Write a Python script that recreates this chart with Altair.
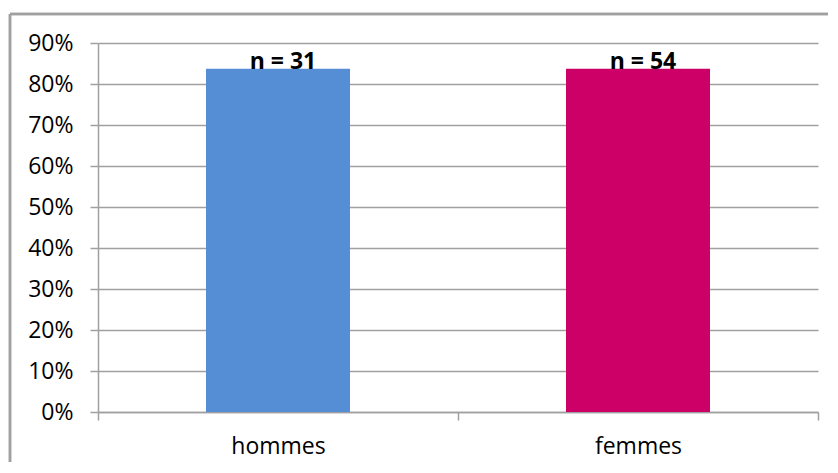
import altair as alt
import pandas as pd

categories = ["hommes", "femmes"]
values = [0.837, 0.837]
labels = ["n = 31", "n = 54"]
colors = ["#558ED5", "#CC0066"]
y_ticks = [0, 0.1, 0.2, 0.3, 0.4, 0.5, 0.6, 0.7, 0.8, 0.9]

df = pd.DataFrame({"cat": categories, "val": values, "lab": labels})

GRAY = "#A0A0A0"
FONT = "Open Sans"

x_enc = alt.X("cat:N", sort=categories,
              scale=alt.Scale(paddingInner=0, paddingOuter=0),
              axis=alt.Axis(title=None, labelAngle=0, tickBand="extent",
                            domainColor=GRAY, domainWidth=1.5,
                            tickColor=GRAY, tickWidth=1.5, tickSize=8,
                            labelFont=FONT, labelFontSize=23, labelColor="black",
                            labelPadding=15, grid=False))
y_enc = alt.Y("val:Q", scale=alt.Scale(domain=[0, 0.9], nice=False),
              axis=alt.Axis(title=None, values=y_ticks, format=".0%",
                            domainColor=GRAY, domainWidth=1.5,
                            tickColor=GRAY, tickWidth=1.5, tickSize=8,
                            gridColor=GRAY, gridWidth=1.5,
                            labelFont=FONT, labelFontSize=23, labelColor="black",
                            labelPadding=17))

bars = alt.Chart(df).mark_bar(width=alt.RelativeBandSize(0.4)).encode(
    x=x_enc, y=y_enc,
    color=alt.Color("cat:N", sort=categories,
                    scale=alt.Scale(domain=categories, range=colors), legend=None),
)

text = alt.Chart(df).mark_text(font=FONT, fontSize=23, fontWeight="bold",
                               baseline="alphabetic", dx=5, dy=0, color="black").encode(
    x=alt.X("cat:N", sort=categories), y=alt.Y("val:Q"), text="lab:N"
)

border_top = alt.Chart(df).mark_rule(color=GRAY, strokeWidth=2.5).encode(
    x=alt.value(-88), x2=alt.value(760), y=alt.value(-29)
)
border_left = alt.Chart(df).mark_rule(color=GRAY, strokeWidth=2.5).encode(
    x=alt.value(-88), y=alt.value(-29), y2=alt.value(460)
)

chart = alt.layer(border_top, border_left, bars, text).properties(
    width=720, height=369,
    autosize=alt.AutoSizeParams(type="none"),
    padding={"left": 90, "top": 35, "right": 10, "bottom": 50},
).configure_view(stroke=None)

chart.save("out.html", embed_options={"renderer": "svg", "actions": False})
